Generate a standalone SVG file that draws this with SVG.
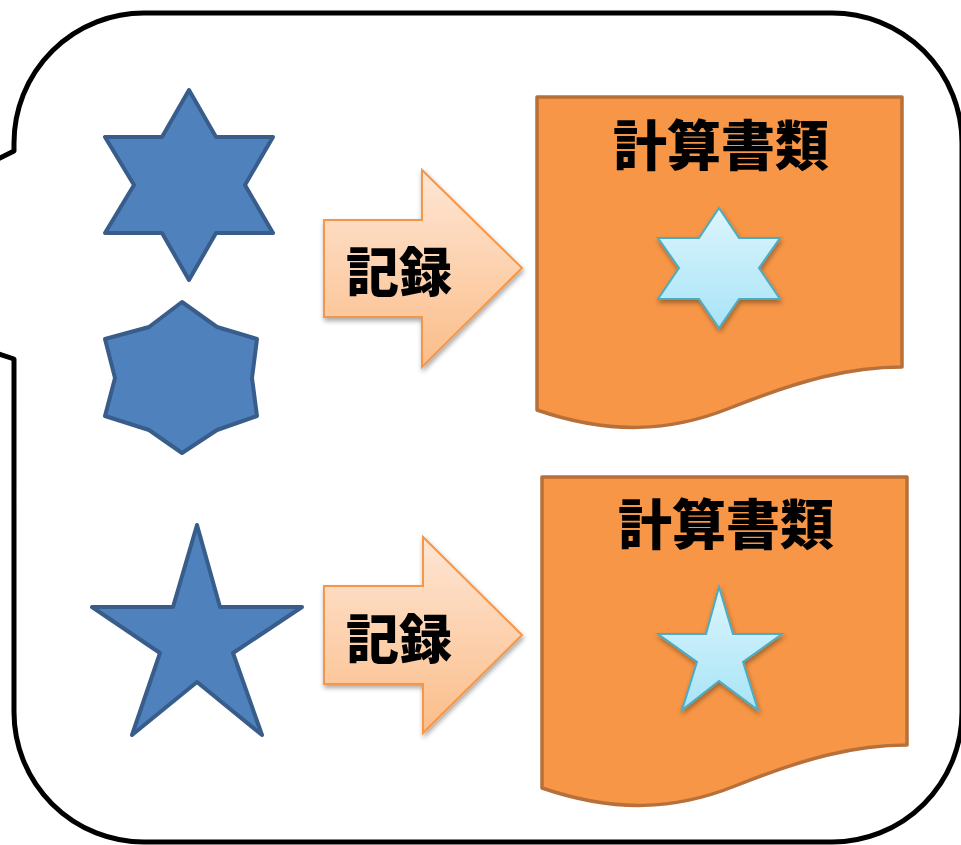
<svg xmlns="http://www.w3.org/2000/svg" width="961" height="845" viewBox="0 0 961 845">
<defs>
<linearGradient id="gArrow" x1="0" y1="0" x2="0" y2="1">
<stop offset="0" stop-color="#fee6d4"/>
<stop offset="1" stop-color="#fbbd89"/>
</linearGradient>
<linearGradient id="gLight" x1="0" y1="0" x2="0" y2="1">
<stop offset="0" stop-color="#dcf5fc"/>
<stop offset="1" stop-color="#a8e4f7"/>
</linearGradient>
<filter id="shadow" x="-20%" y="-20%" width="140%" height="140%">
<feGaussianBlur in="SourceAlpha" stdDeviation="2.5"/>
<feOffset dx="1" dy="3" result="b"/>
<feComponentTransfer><feFuncA type="linear" slope="0.35"/></feComponentTransfer>
<feMerge><feMergeNode/><feMergeNode in="SourceGraphic"/></feMerge>
</filter>
</defs>
<style>
.bubble{fill:#ffffff;stroke:#000000;stroke-width:5;stroke-linejoin:round}
.blue{fill:#4f81bd;stroke:#385d8a;stroke-width:4;stroke-linejoin:round}
.arrow{fill:url(#gArrow);stroke:#f79646;stroke-width:2;filter:url(#shadow)}
.doc{fill:#f79646;stroke:#b8703a;stroke-width:3.5;stroke-linejoin:round}
.light{fill:url(#gLight);stroke:#4bacc6;stroke-width:2;filter:url(#shadow)}
.lbl{font-family:"Noto Sans CJK JP","Noto Sans CJK SC",sans-serif;font-weight:900;fill:#000000;text-anchor:middle;dominant-baseline:central}
</style>
<g id="bubble">
<path class="bubble" d="M145,13 H832 A130,130 0 0 1 962,143 V712 A130,130 0 0 1 832,842 H144 A130,130 0 0 1 14,712 V359 L-238,276 L14,151 V143 A130,130 0 0 1 145,13 Z"/>
</g>
<g id="hexagram-blue">
<polygon class="blue" points="189,90 216,137 273,137 245,185 273,233 216,233 189,280 162,233 105,233 134,185 105,137 162,137"/>
</g>
<g id="hexagon-star-blue">
<polygon class="blue" points="182,302 217,327 257,339 252,378 257,416 217,430 182,453 149,430 105,416 115,378 105,339 149,327"/>
</g>
<g id="star-blue">
<polygon class="blue" points="197,525 220,607 302,607 233,653 262,735 197,682 132,735 160,653 92,607 173,607"/>
</g>
<g id="connectors">
<g id="arrow1">
<polygon class="arrow" points="324,220 422,220 422,170 522,268 422,367 422,317 324,317"/>
<text class="lbl" x="399" y="269" font-size="53">記録</text>
</g>
<g id="arrow2">
<polygon class="arrow" points="324,586 423,586 423,537 522,635 423,733 423,684 324,684"/>
<text class="lbl" x="399" y="636" font-size="53">記録</text>
</g>
</g>
<g id="doc1">
<path class="doc" d="M537,97 H902 V367 C850,367 800,380 730,408 C670,432 610,435 537,410 Z"/>
<text class="lbl" x="721" y="142" font-size="54">計算書類</text>
<polygon class="light" points="719,208 739,238 780,238 759,268 780,299 739,299 719,328 699,299 658,299 679,268 658,238 699,238"/>
</g>
<g id="doc2">
<path class="doc" d="M542,477 H907 V745 C855,745 805,758 735,786 C675,810 615,813 542,788 Z"/>
<text class="lbl" x="726" y="521" font-size="54">計算書類</text>
<polygon class="light" points="719,587 733,634 782,634 743,662 758,710 719,681 682,710 697,662 658,634 706,634"/>
</g>
</svg>
